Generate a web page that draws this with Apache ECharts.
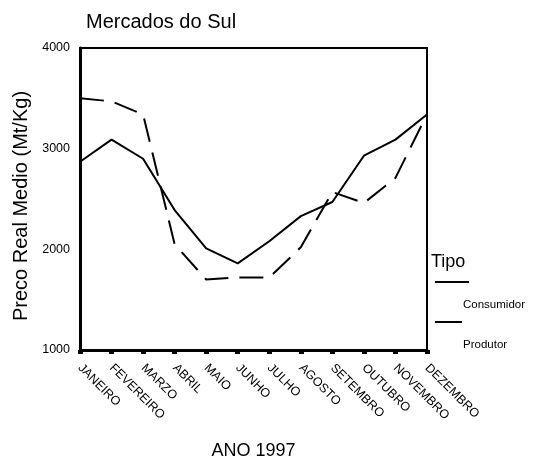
<!DOCTYPE html>
<html>
<head>
<meta charset="utf-8">
<script src="https://cdn.jsdelivr.net/npm/echarts@6/dist/echarts.min.js"></script>
<style>
  html, body { margin: 0; padding: 0; background: #fff; }
  #main { width: 537px; height: 464px; }
</style>
</head>
<body>
<div id="main"></div>
<script>
// dados
var meses = ['JANEIRO', 'FEVEREIRO', 'MARZO', 'ABRIL', 'MAIO', 'JUNHO', 'JULHO',
  'AGOSTO', 'SETEMBRO', 'OUTUBRO', 'NOVEMBRO', 'DEZEMBRO'];
var consumidor = [2870, 3090, 2900, 2390, 2010, 1860, 2080, 2330, 2470, 2930, 3090, 3340];
var produtor = [3500, 3470, 3340, 2050, 1700, 1720, 1720, 2020, 2570, 2460, 2710, 3340];
var yTicks = [1000, 2000, 3000, 4000];

var font = 'Liberation Sans, Arial, sans-serif';
var myChart = echarts.init(document.getElementById('main'));

var option = {
  backgroundColor: '#fff',
  animation: false,
  textStyle: { fontFamily: font, color: '#000' },
  title: {
    text: 'Mercados do Sul',
    left: 81, top: 7,
    textStyle: { fontFamily: font, fontSize: 20, fontWeight: 'normal', color: '#000' }
  },
  grid: {
    left: 80, right: 110, top: 48, bottom: 114,
    outerBoundsMode: 'none', containLabel: false,
    show: true, borderColor: '#000', borderWidth: 2
  },
  xAxis: {
    type: 'category',
    data: meses,
    boundaryGap: false,
    name: 'ANO 1997',
    nameLocation: 'middle',
    nameGap: 92,
    nameTextStyle: { fontFamily: font, fontSize: 18, color: '#000' },
    axisLine: { lineStyle: { color: '#000', width: 3 } },
    axisTick: { show: true, length: 4, inside: false, lineStyle: { color: '#000', width: 5 } },
    axisLabel: { rotate: -45, fontFamily: font, fontSize: 12.5, color: '#000', margin: 16, interval: 0 },
    splitLine: { show: false }
  },
  yAxis: {
    type: 'value',
    min: yTicks[0], max: yTicks[yTicks.length - 1], interval: 1000,
    name: 'Preco Real Medio (Mt/Kg)',
    nameLocation: 'middle',
    nameGap: 47,
    nameRotate: 90,
    nameTextStyle: { fontFamily: font, fontSize: 20, color: '#000', padding: [0, 14, 0, 0] },
    axisLine: { show: true, lineStyle: { color: '#000', width: 3 } },
    axisTick: { show: false },
    axisLabel: { fontFamily: font, fontSize: 12.5, color: '#000', margin: 10, formatter: function (v) { return String(v); } },
    splitLine: { show: false }
  },
  series: [
    {
      name: 'Consumidor', type: 'line', data: consumidor,
      symbol: 'none', smooth: false,
      lineStyle: { color: '#000', width: 2, type: 'solid' }
    },
    {
      name: 'Produtor', type: 'line', data: produtor,
      symbol: 'none', smooth: false,
      lineStyle: { color: '#000', width: 2, type: [24, 11] }
    }
  ],
  // legenda desenhada a mao como no original
  graphic: [
    { type: 'text', left: 431, top: 253, style: { text: 'Tipo', font: '18px ' + font, fill: '#000' } },
    { type: 'line', shape: { x1: 435, y1: 282, x2: 469, y2: 282 }, style: { stroke: '#000', lineWidth: 2 } },
    { type: 'text', left: 463, top: 299, style: { text: 'Consumidor', font: '11.5px ' + font, fill: '#000' } },
    { type: 'line', shape: { x1: 435, y1: 322, x2: 462, y2: 322 }, style: { stroke: '#000', lineWidth: 2 } },
    { type: 'text', left: 463, top: 339, style: { text: 'Produtor', font: '11.5px ' + font, fill: '#000' } }
  ]
};

myChart.setOption(option);
</script>
</body>
</html>
